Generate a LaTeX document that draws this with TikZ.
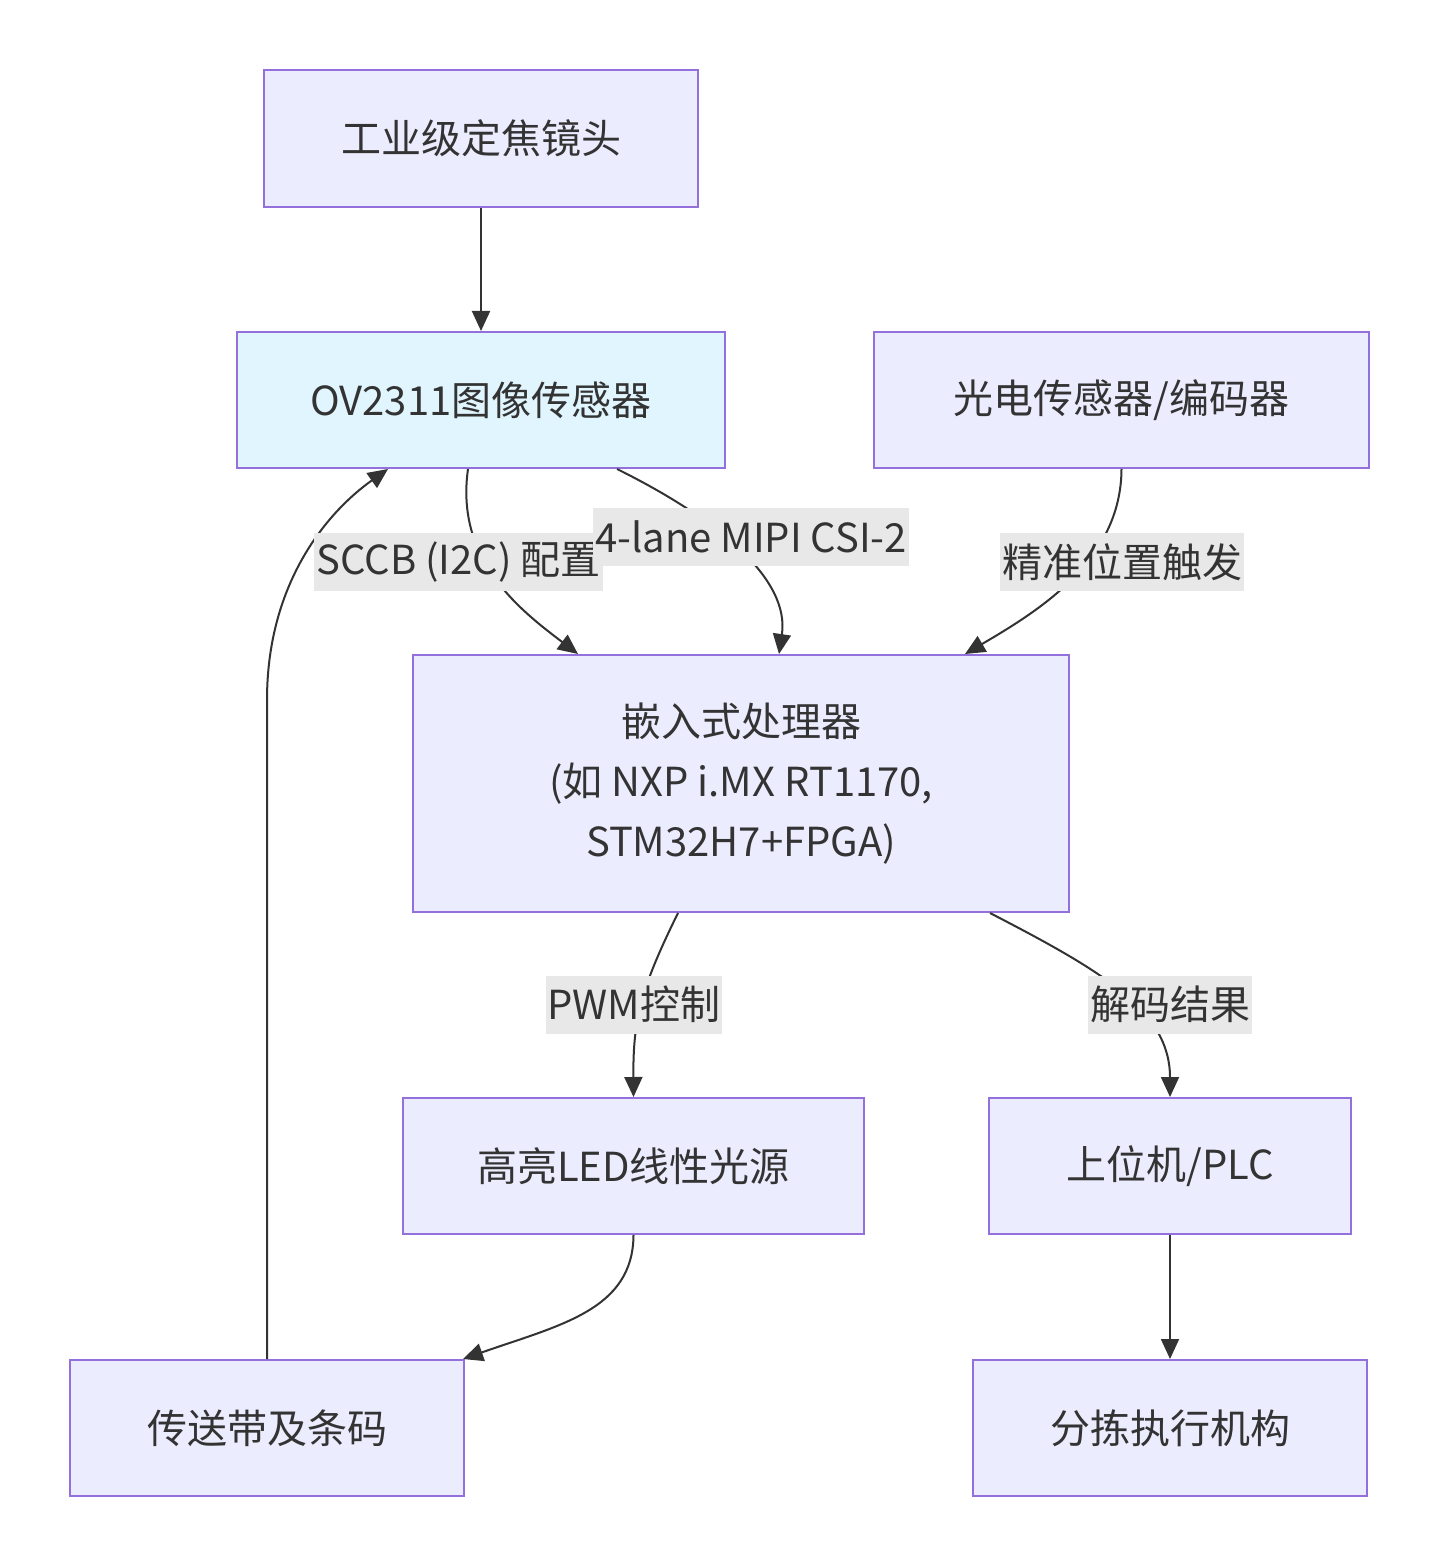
\documentclass[tikz,border=0pt]{standalone}
\usepackage{fontspec}
\setmainfont{Noto Sans CJK SC}
\usepackage{tikz}
\usetikzlibrary{arrows.meta}

\definecolor{boxfill}{HTML}{ECECFF}
\definecolor{boxline}{HTML}{9370DB}
\definecolor{camfill}{HTML}{E1F5FE}
\definecolor{lblbg}{HTML}{E8E8E8}
\definecolor{inkgray}{HTML}{333333}

\tikzset{
    block/.style={draw=boxline, fill=boxfill, line width=1pt, inner sep=0pt,
        text=inkgray, font=\fontsize{20}{30}\selectfont, align=center},
    flow/.style={draw=inkgray, line width=1pt, -{Triangle[length=10pt, width=9pt]}},
    link/.style={draw=inkgray, line width=1pt},
    tag/.style={fill=lblbg, text=inkgray, inner xsep=1pt, inner ysep=0pt,
        minimum height=29pt, font=\fontsize{20}{24}\selectfont}
}

\begin{document}
\begin{tikzpicture}[x=0.5pt, y=-0.5pt]

        \useasboundingbox[fill=white] (0,0) rectangle (1440,1567);

        \node[block, minimum width=217pt, minimum height=68.5pt] (lens) at (481, 138.5) {工业级定焦镜头};
        \node[block, fill=camfill, minimum width=244pt, minimum height=68pt] (ov_sensor) at (481, 400) {OV2311图像传感器};
        \node[block, minimum width=247.5pt, minimum height=68pt] (photo_sensor) at (1121.5, 400) {光电传感器/编码器};
        \node[block, minimum width=328pt, minimum height=128.5pt] (cpu) at (741, 783.5) {嵌入式处理器\\(如 NXP i.MX RT1170,\\STM32H7+FPGA)};
        \node[block, minimum width=230.5pt, minimum height=68pt] (led_light) at (633.5, 1166) {高亮LED线性光源};
        \node[block, minimum width=181pt, minimum height=68pt] (host_pc) at (1170, 1166) {上位机/PLC};
        \node[block, minimum width=197pt, minimum height=68pt] (belt) at (267, 1428) {传送带及条码};
        \node[block, minimum width=197pt, minimum height=68pt] (sorter) at (1170, 1428) {分拣执行机构};

        \draw[flow] (lens) -- (ov_sensor);
        \draw[flow] ([xshift=-6.5pt]ov_sensor.south) .. controls (455, 560) and (520, 610) .. ([xshift=-81.5pt]cpu.north);
        \draw[flow] ([xshift=68pt]ov_sensor.south) .. controls (720, 520) and (790, 580) .. ([xshift=19pt]cpu.north);
        \draw[flow] (photo_sensor.south) .. controls (1121, 560) and (1040, 610) .. ([xshift=112pt]cpu.north);
        \draw[flow] ([xshift=-31.5pt]cpu.south) .. controls (640, 990) and (633, 1020) .. (led_light.north);
        \draw[flow] ([xshift=124.5pt]cpu.south) .. controls (1100, 970) and (1170, 1010) .. (host_pc.north);
        \draw[flow] (led_light.south) .. controls (633, 1310) and (560, 1325) .. ([xshift=-1pt]belt.north east);
        \draw[flow] (belt.north) -- (267, 700) .. controls (267, 580) and (330, 510) .. ([xshift=-46.5pt]ov_sensor.south);
        \draw[flow] (host_pc) -- (sorter);

        \node[tag] (sccb_tag) at (458.5, 562) {SCCB (I2C) 配置};
        \node[tag] (mipi_tag) at (751, 536.5) {4-lane MIPI CSI-2};
        \node[tag] (trig_tag) at (1122, 562) {精准位置触发};
        \node[tag] (pwm_tag) at (634, 1004.5) {PWM控制};
        \node[tag] (result_tag) at (1170, 1004.5) {解码结果};

    \end{tikzpicture}
\end{document}
